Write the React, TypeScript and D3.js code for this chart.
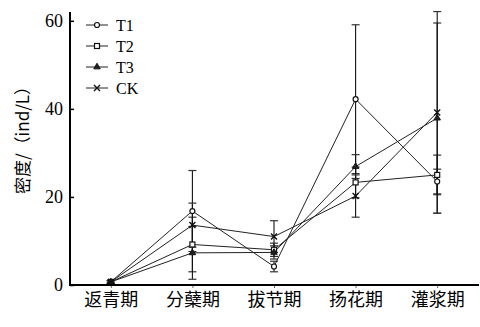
import { useEffect, useRef } from "react";
import * as d3 from "d3";

const stages = ["返青期", "分蘖期", "拔节期", "扬花期", "灌浆期"];
const yTicks = [0, 20, 40, 60];

const seriesNames = ["T1", "T2", "T3", "CK"];
const t1 = [0.7, 16.8, 4.2, 42.2, 23.5];
const t2 = [0.7, 9.2, 8.0, 23.3, 25.0];
const t3 = [0.7, 7.3, 7.4, 26.9, 37.9];
const ck = [0.7, 13.6, 11.0, 20.2, 39.2];
const t1Err = [0.3, 9.2, 1.2, 16.9, 2.8];
const t2Err = [0.3, 6.2, 1.5, 3.5, 4.5];
const t3Err = [0.3, 6.0, 1.5, 2.7, 21.6];
const ckErr = [0.3, 5.0, 3.6, 4.8, 22.9];

const W = 480;
const H = 327;

export default function App() {
  const ref = useRef<SVGSVGElement>(null);

  useEffect(() => {
    const svg = d3.select(ref.current);
    svg.selectAll("*").remove();

    const serif = "'Liberation Serif', 'DejaVu Serif', serif";
    const cjk = "'Noto Sans CJK SC', sans-serif";

    const x = d3.scalePoint<string>().domain(stages).range([70, 478]).padding(0.5);
    const y = d3.scaleLinear().domain([0, 62]).range([285, 12]);

    const series = [
      { name: seriesNames[0], vals: t1, err: t1Err, shape: "circle" },
      { name: seriesNames[1], vals: t2, err: t2Err, shape: "square" },
      { name: seriesNames[2], vals: t3, err: t3Err, shape: "triangle" },
      { name: seriesNames[3], vals: ck, err: ckErr, shape: "cross" },
    ];

    // error bars
    const eg = svg.append("g");
    series.forEach(s => {
      s.vals.forEach((v, i) => {
        const cx = x(stages[i])!;
        const lo = y(v - s.err[i]);
        const hi = y(v + s.err[i]);
        eg.append("line").attr("x1", cx).attr("x2", cx).attr("y1", lo).attr("y2", hi)
          .attr("stroke", "#111").attr("stroke-width", 1.1);
        [lo, hi].forEach(yy => {
          eg.append("line").attr("x1", cx - 4).attr("x2", cx + 4).attr("y1", yy).attr("y2", yy)
            .attr("stroke", "#333").attr("stroke-width", 1.2);
        });
      });
    });

    const line = d3.line<number>().x((_, i) => x(stages[i])!).y(d => y(d));

    const drawMarker = (g: any, shape: string, cx: number, cy: number) => {
      if (shape === "circle") {
        g.append("circle").attr("cx", cx).attr("cy", cy).attr("r", 2.5)
          .attr("fill", "#fff").attr("stroke", "#111").attr("stroke-width", 1.2);
      } else if (shape === "square") {
        g.append("rect").attr("x", cx - 2.5).attr("y", cy - 2.5).attr("width", 5).attr("height", 5)
          .attr("fill", "#fff").attr("stroke", "#111").attr("stroke-width", 1.2);
      } else if (shape === "triangle") {
        g.append("path").attr("d", d3.symbol(d3.symbolTriangle, 18)()!)
          .attr("transform", `translate(${cx},${cy})`)
          .attr("fill", "#222").attr("stroke", "#111").attr("stroke-width", 1);
      } else {
        g.append("path").attr("d", `M${cx - 3},${cy - 3}L${cx + 3},${cy + 3}M${cx - 3},${cy + 3}L${cx + 3},${cy - 3}`)
          .attr("stroke", "#111").attr("stroke-width", 1.4);
      }
    };

    const lg = svg.append("g");
    series.forEach(s => {
      lg.append("path").attr("d", line(s.vals)!).attr("fill", "none")
        .attr("stroke", "#222").attr("stroke-width", 1);
    });
    series.forEach(s => {
      s.vals.forEach((v, i) => drawMarker(lg, s.shape, x(stages[i])!, y(v)));
    });

    // axes
    const xAxis = svg.append("g").attr("transform", "translate(0,285)")
      .call(d3.axisBottom(x).tickSize(3).tickPadding(5));
    xAxis.select(".domain").remove();
    xAxis.selectAll(".tick line").attr("stroke", "#666");
    xAxis.selectAll(".tick text").attr("font-family", cjk).attr("font-size", 18).attr("fill", "#000");
    svg.append("line").attr("x1", 69).attr("x2", 479).attr("y1", 285).attr("y2", 285)
      .attr("stroke", "#000").attr("stroke-width", 2);

    const yAxis = svg.append("g").attr("transform", "translate(70,0)")
      .call(d3.axisRight(y).tickValues(yTicks).tickSize(4).tickFormat(d3.format("d")));
    yAxis.select(".domain").remove();
    yAxis.selectAll(".tick line").attr("stroke", "#000").attr("stroke-width", 1.5);
    yAxis.selectAll(".tick text").attr("x", -7).attr("text-anchor", "end")
      .attr("font-family", serif).attr("font-size", 18).attr("fill", "#000");
    svg.append("line").attr("x1", 70).attr("x2", 70).attr("y1", 12).attr("y2", 286)
      .attr("stroke", "#000").attr("stroke-width", 2);

    svg.append("text").attr("transform", "translate(29,136) rotate(-90)")
      .attr("text-anchor", "middle").attr("font-family", cjk).attr("font-size", 17)
      .text("密度/（ind/L）");

    // legend
    const leg = svg.append("g");
    series.forEach((s, i) => {
      const ly = 25 + i * 21;
      leg.append("line").attr("x1", 86).attr("x2", 108).attr("y1", ly).attr("y2", ly)
        .attr("stroke", "#222").attr("stroke-width", 1);
      drawMarker(leg, s.shape, 97, ly);
      leg.append("text").attr("x", 116).attr("y", ly + 5.5).attr("font-family", serif)
        .attr("font-size", 16).text(s.name);
    });
  }, []);

  return (
    <svg ref={ref} width={W} height={H}
      style={{ position: "absolute", left: 0, top: 0, background: "#fff" }} />
  );
}
